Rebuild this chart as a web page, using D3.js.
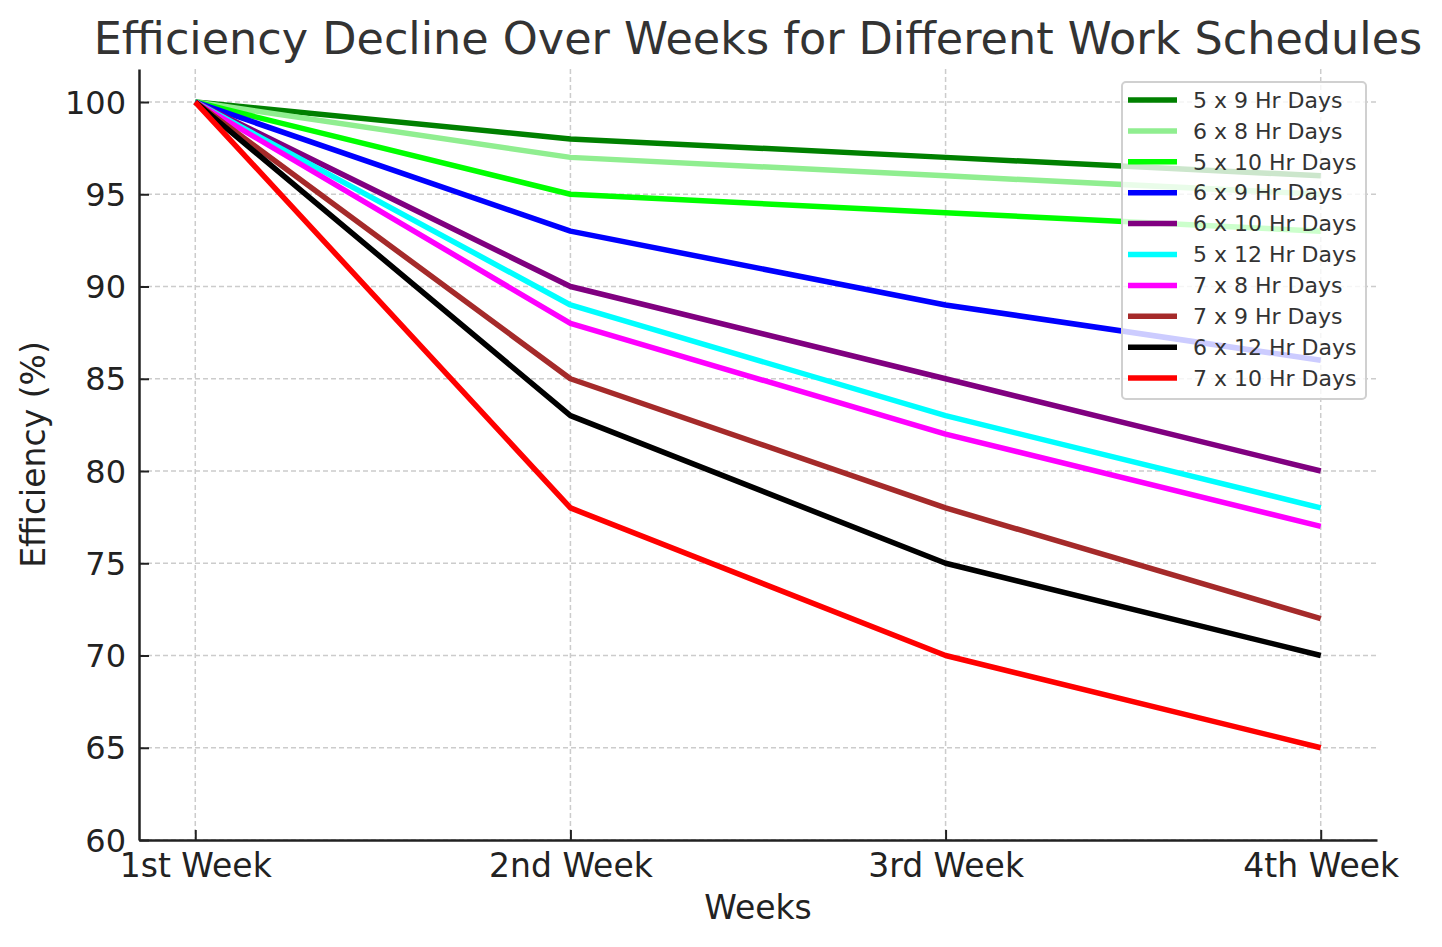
<!DOCTYPE html>
<html>
<head>
<meta charset="utf-8">
<script src="https://cdn.jsdelivr.net/npm/d3@7"></script>
<style>
  body { margin: 0; background: #fff; }
  svg { font-family: "DejaVu Sans", sans-serif; }
</style>
</head>
<body>
<script>
// data
var weeks = ["1st Week", "2nd Week", "3rd Week", "4th Week"];
var scheduleNames = ["5 x 9 Hr Days", "6 x 8 Hr Days", "5 x 10 Hr Days", "6 x 9 Hr Days", "6 x 10 Hr Days",
                     "5 x 12 Hr Days", "7 x 8 Hr Days", "7 x 9 Hr Days", "6 x 12 Hr Days", "7 x 10 Hr Days"];
var efficiency = [
    [100, 98, 97, 96],
    [100, 97, 96, 95],
    [100, 95, 94, 93],
    [100, 93, 89, 86],
    [100, 90, 85, 80],
    [100, 89, 83, 78],
    [100, 88, 82, 77],
    [100, 85, 78, 72],
    [100, 83, 75, 70],
    [100, 78, 70, 65]
];
var lineColors = ["green", "lightgreen", "lime", "blue", "purple", "cyan", "magenta", "brown", "black", "red"];
var yTicks = [60, 65, 70, 75, 80, 85, 90, 95, 100];

var W = 1442, H = 947;
var margin = {top: 69, right: 65, bottom: 107, left: 139};

var svg = d3.select("body")
            .append("svg")
            .attr("width", W)
            .attr("height", H);

var xScale = d3.scaleLinear()
                .domain([-0.15, 3.15])
                .range([margin.left, W - margin.right]);

var yScale = d3.scaleLinear()
                .domain([60, 101.79])
                .range([H - margin.bottom, margin.top]);

// grid
svg.append("g")
    .selectAll("line")
    .data(yTicks)
    .enter()
    .append("line")
    .attr("x1", margin.left)
    .attr("x2", W - margin.right)
    .attr("y1", function(d) { return yScale(d); })
    .attr("y2", function(d) { return yScale(d); })
    .attr("stroke", "#cccccc")
    .attr("stroke-width", 1.5)
    .attr("stroke-dasharray", "5,3");

svg.append("g")
    .selectAll("line")
    .data(weeks)
    .enter()
    .append("line")
    .attr("x1", function(d, i) { return xScale(i); })
    .attr("x2", function(d, i) { return xScale(i); })
    .attr("y1", margin.top)
    .attr("y2", H - margin.bottom)
    .attr("stroke", "#cccccc")
    .attr("stroke-width", 1.5)
    .attr("stroke-dasharray", "5,3");

// lines
var line = d3.line()
            .x(function(d, i) { return xScale(i); })
            .y(function(d) { return yScale(d); });

svg.append("g")
    .selectAll("path")
    .data(efficiency)
    .enter()
    .append("path")
    .attr("d", line)
    .attr("fill", "none")
    .attr("stroke", function(d, i) { return lineColors[i]; })
    .attr("stroke-width", 5.5)
    .attr("stroke-linejoin", "round");

// axes (ticks point inward)
var xAxis = d3.axisTop(xScale)
                .tickValues([0, 1, 2, 3])
                .tickFormat(function(d) { return weeks[d]; })
                .tickSizeInner(10)
                .tickSizeOuter(0);

var yAxis = d3.axisRight(yScale)
                .tickValues(yTicks)
                .tickSizeInner(10)
                .tickSizeOuter(0);

var gx = svg.append("g")
    .attr("transform", "translate(0," + (H - margin.bottom) + ")")
    .call(xAxis);
gx.select(".domain").attr("stroke", "#222").attr("stroke-width", 2.5);
gx.selectAll(".tick line").attr("stroke", "#222").attr("stroke-width", 2);
gx.selectAll(".tick text")
    .attr("y", 37)
    .attr("dy", 0)
    .attr("fill", "#222")
    .style("font-size", "33px");

var gy = svg.append("g")
    .attr("transform", "translate(" + margin.left + ",0)")
    .call(yAxis);
gy.select(".domain").attr("stroke", "#222").attr("stroke-width", 2.5);
gy.selectAll(".tick line").attr("stroke", "#222").attr("stroke-width", 2);
gy.selectAll(".tick text")
    .attr("x", -13)
    .attr("dy", "0.35em")
    .attr("text-anchor", "end")
    .attr("fill", "#222")
    .style("font-size", "32px");

gx.attr("font-family", null).attr("font-size", null);
gy.attr("font-family", null).attr("font-size", null);

// title and axis labels
svg.append("text")
    .attr("x", (margin.left + W - margin.right) / 2)
    .attr("y", 54)
    .attr("text-anchor", "middle")
    .attr("fill", "#333")
    .style("font-size", "44.5px")
    .text("Efficiency Decline Over Weeks for Different Work Schedules");

svg.append("text")
    .attr("x", (margin.left + W - margin.right) / 2)
    .attr("y", 919)
    .attr("text-anchor", "middle")
    .attr("fill", "#222")
    .style("font-size", "33px")
    .text("Weeks");

svg.append("text")
    .attr("transform", "translate(45," + ((margin.top + H - margin.bottom) / 2) + ") rotate(-90)")
    .attr("text-anchor", "middle")
    .attr("fill", "#222")
    .style("font-size", "33px")
    .text("Efficiency (%)");

// legend
var legend = svg.append("g")
                .attr("class", "legend");

legend.append("rect")
    .attr("x", 1122)
    .attr("y", 82)
    .attr("width", 244)
    .attr("height", 317)
    .attr("rx", 4)
    .attr("fill", "white")
    .attr("fill-opacity", 0.8)
    .attr("stroke", "#d0d0d0")
    .attr("stroke-width", 2);

var items = legend.selectAll(".item")
                .data(scheduleNames)
                .enter()
                .append("g")
                .attr("transform", function(d, i) { return "translate(0," + (100 + i * 30.9) + ")"; });

items.append("line")
    .attr("x1", 1128)
    .attr("x2", 1177)
    .attr("stroke", function(d, i) { return lineColors[i]; })
    .attr("stroke-width", 5.5);

items.append("text")
    .attr("x", 1193)
    .attr("dy", "0.35em")
    .attr("fill", "#333")
    .style("font-size", "22px")
    .text(function(d) { return d; });
</script>
</body>
</html>
